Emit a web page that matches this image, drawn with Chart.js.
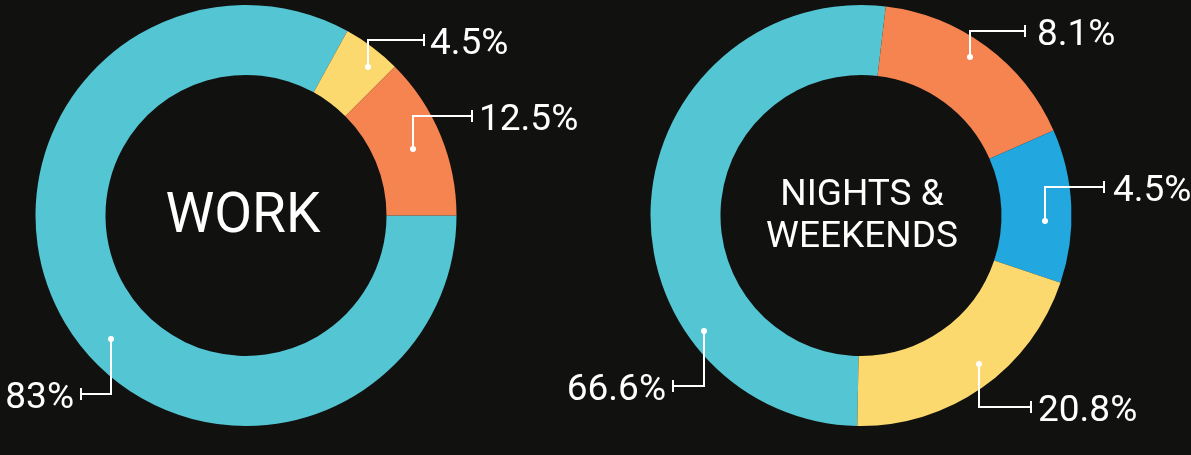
<!DOCTYPE html>
<html>
<head>
<meta charset="utf-8">
<script src="https://cdn.jsdelivr.net/npm/chart.js@4/dist/chart.umd.min.js"></script>
<style>
html,body{margin:0;padding:0;background:#111210;width:1191px;height:455px;overflow:hidden}
.box{position:absolute;top:0;height:455px}
#w{left:0;width:596px}
#n{left:500px;width:691px}
</style>
</head>
<body>
<div class="box" id="w"><canvas id="cw"></canvas></div>
<div class="box" id="n"><canvas id="cn"></canvas></div>
<script>
// ---- data ----
const workCategories = ['Segment A', 'Segment B', 'Segment C'];
const workValues = [83, 4.5, 12.5];
const workLabels = ['83%', '4.5%', '12.5%'];
const workTitle = ['WORK'];

const nightsCategories = ['Segment A', 'Segment B', 'Segment C', 'Segment D'];
const nightsValues = [51.6, 16.5, 11.8, 20.1];   // arc sizes as drawn in the picture
const nightsLabels = ['66.6%', '8.1%', '4.5%', '20.8%'];
const nightsTitle = ['NIGHTS &', 'WEEKENDS'];

// ---- styles ----
const CYAN = '#54c5d3', ORANGE = '#f58450', YELLOW = '#fcd96f', BLUE = '#22a7df';

const leaderPlugin = {
  id: 'leaders',
  afterDatasetsDraw(chart, args, opts) {
    const ctx = chart.ctx;
    const meta = chart.getDatasetMeta(0);
    meta.data.forEach((arc, i) => {
      const L = opts.items[i];
      if (!L) return;
      const p = arc.getProps(['x','y','startAngle','endAngle','innerRadius','outerRadius'], true);
      const a = p.startAngle + (p.endAngle - p.startAngle) * L.t;
      const r = p.innerRadius + (p.outerRadius - p.innerRadius) * L.r;
      const px = Math.round(p.x + Math.cos(a) * r), py = Math.round(p.y + Math.sin(a) * r);
      const ex = px + L.dx, ey = py + L.dy;
      ctx.save();
      ctx.strokeStyle = '#ffffff';
      ctx.lineWidth = 2;
      ctx.beginPath();
      ctx.moveTo(px, py); ctx.lineTo(px, ey); ctx.lineTo(ex, ey);
      ctx.stroke();
      ctx.beginPath();
      ctx.moveTo(ex, ey - 6); ctx.lineTo(ex, ey + 6);
      ctx.stroke();
      ctx.fillStyle = '#ffffff';
      ctx.beginPath(); ctx.arc(px, py, 3, 0, Math.PI * 2); ctx.fill();
      const dir = L.dx >= 0 ? 1 : -1;
      ctx.font = '37px Roboto, "Open Sans", sans-serif';
      ctx.textAlign = dir > 0 ? 'left' : 'right';
      ctx.textBaseline = 'alphabetic';
      ctx.fillText(opts.labels[i], ex + dir * L.gap, ey + 14);
      ctx.restore();
    });
  }
};

const centerPlugin = {
  id: 'centerText',
  afterDatasetsDraw(chart, args, opts) {
    const arc = chart.getDatasetMeta(0).data[0];
    if (!arc) return;
    const ctx = chart.ctx;
    const n = opts.lines.length;
    const cap = opts.size * 0.711;
    let y = arc.y + opts.offsetY - (n - 1) * opts.lineHeight / 2 + cap / 2;
    ctx.save();
    ctx.fillStyle = '#ffffff';
    ctx.font = opts.size + 'px Roboto, "Open Sans", sans-serif';
    ctx.textAlign = 'center';
    ctx.textBaseline = 'alphabetic';
    opts.lines.forEach(t => {
      ctx.fillText(t, arc.x + opts.offsetX, y);
      y += opts.lineHeight;
    });
    ctx.restore();
  }
};

function makeChart(id, cats, vals, labels, colors, rotation, padding, items, center) {
  return new Chart(document.getElementById(id), {
    type: 'doughnut',
    data: {
      labels: cats,
      datasets: [{
        data: vals,
        backgroundColor: colors,
        borderWidth: 0,
        hoverOffset: 0
      }]
    },
    options: {
      responsive: true,
      maintainAspectRatio: false,
      animation: false,
      rotation: rotation,
      cutout: '66.75%',
      layout: { padding: padding },
      events: [],
      plugins: {
        legend: { display: false },
        tooltip: { enabled: false },
        leaders: { items: items, labels: labels },
        centerText: center
      }
    },
    plugins: [leaderPlugin, centerPlugin]
  });
}

makeChart('cw', workCategories, workValues, workLabels, [CYAN, YELLOW, ORANGE], 90,
  { left: 35.5, right: 139.5, top: 5, bottom: 29 },
  [
    { t: 0.46, r: 0.61, dx: -30, dy: 55, gap: 7 },
    { t: 0.65, r: 0.74, dx: 56, dy: -27, gap: 6 },
    { t: 0.52, r: 0.556, dx: 59, dy: -33, gap: 7 }
  ],
  { lines: workTitle, size: 55, lineHeight: 60, offsetX: -3, offsetY: -3 });

makeChart('cn', nightsCategories, nightsValues, nightsLabels, [CYAN, ORANGE, BLUE, YELLOW], 181,
  { left: 150.5, right: 119.5, top: 5, bottom: 29 },
  [
    { t: 0.283, r: 0.78, dx: -31, dy: 55, gap: 7 },
    { t: 0.47, r: 0.74, dx: 55, dy: -26, gap: 12 },
    { t: 0.60, r: 0.62, dx: 59, dy: -34, gap: 9 },
    { t: 0.453, r: 0.70, dx: 52, dy: 43, gap: 7 }
  ],
  { lines: nightsTitle, size: 37, lineHeight: 42.3, offsetX: 1, offsetY: -2.5 });
</script>
</body>
</html>
